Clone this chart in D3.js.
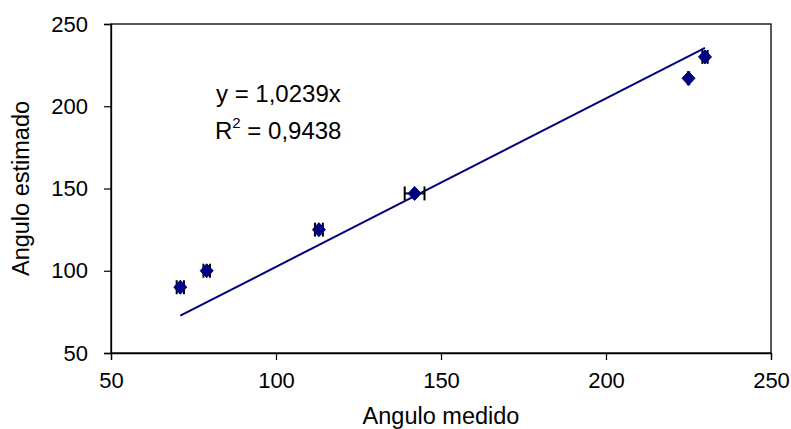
<!DOCTYPE html>
<html>
<head>
<meta charset="utf-8">
<script src="https://cdn.jsdelivr.net/npm/d3@7/dist/d3.min.js"></script>
<style>
  html, body { margin: 0; padding: 0; background: #fff; }
  svg { display: block; font-family: "Liberation Sans", Arial, sans-serif; }
</style>
</head>
<body>
<svg id="chart" width="791" height="429"></svg>
<script>
// Measured vs estimated angle, with horizontal error bars
const measured  = [71, 79, 113, 142, 225, 230];
const estimated = [90, 100, 125, 147, 217, 230];
const xError    = [1.1, 1.0, 1.2, 3.0, 0.2, 0.8];
const slope = 1.0239;
const r2Label = "0,9438";
const xTicks = [50, 100, 150, 200, 250];
const yTicks = [50, 100, 150, 200, 250];

const svg = d3.select("#chart");
const margin = { left: 111, right: 20, top: 24, bottom: 76 };
const W = 791, H = 429;
const tickFont = "22px";
const titleFont = "23.5px";
const annFont = "24px";

const x = d3.scaleLinear().domain([50, 250]).range([margin.left, W - margin.right]);
const y = d3.scaleLinear().domain([50, 250]).range([H - margin.bottom, margin.top]);

// plot frame
svg.append("rect")
  .attr("x", x(50)).attr("y", y(250))
  .attr("width", x(250) - x(50)).attr("height", y(50) - y(250))
  .attr("fill", "none").attr("stroke", "#000").attr("stroke-width", 1.3);

const xAxis = svg.append("g")
  .attr("transform", `translate(0,${y(50)})`)
  .call(d3.axisBottom(x).tickValues(xTicks).tickSize(7).tickPadding(12).tickFormat(d3.format("d")));
const yAxis = svg.append("g")
  .attr("transform", `translate(${x(50)},0)`)
  .call(d3.axisLeft(y).tickValues(yTicks).tickSize(7).tickPadding(16).tickFormat(d3.format("d")));

[xAxis, yAxis].forEach(g => {
  g.select(".domain").attr("stroke", "#000").attr("stroke-width", 1.3);
  g.selectAll(".tick line").attr("stroke", "#000").attr("stroke-width", 1.2);
  g.selectAll("text").attr("fill", "#000").style("font-size", tickFont)
    .style("font-family", "'Liberation Sans', Arial, sans-serif");
});

// axis titles
svg.append("text")
  .attr("x", (x(50) + x(250)) / 2).attr("y", 424)
  .attr("text-anchor", "middle").style("font-size", titleFont)
  .text("Angulo medido");
svg.append("text")
  .attr("transform", `translate(29,${(y(50) + y(250)) / 2}) rotate(-90)`)
  .attr("text-anchor", "middle").style("font-size", titleFont)
  .text("Angulo estimado");

// trend line through origin, drawn over the data range
const xMin = d3.min(measured), xMax = d3.max(measured);
svg.append("line")
  .attr("x1", x(xMin)).attr("y1", y(slope * xMin))
  .attr("x2", x(xMax)).attr("y2", y(slope * xMax))
  .attr("stroke", "#000080").attr("stroke-width", 2);

// error bars
const data = measured.map((m, i) => ({ m, e: estimated[i], err: xError[i] }));
const eb = svg.append("g").attr("stroke", "#000").attr("stroke-width", 2);
data.forEach(d => {
  eb.append("line")
    .attr("x1", x(d.m - d.err)).attr("x2", x(d.m + d.err))
    .attr("y1", y(d.e)).attr("y2", y(d.e));
  [d.m - d.err, d.m + d.err].forEach(v => {
    eb.append("line")
      .attr("x1", x(v)).attr("x2", x(v))
      .attr("y1", y(d.e) - 7).attr("y2", y(d.e) + 7);
  });
});

// diamond markers
svg.append("g").selectAll("path").data(data).join("path")
  .attr("transform", d => `translate(${x(d.m)},${y(d.e)})`)
  .attr("d", "M0,-7L6.5,0L0,7L-6.5,0Z")
  .attr("fill", "#000080").attr("stroke", "#000080").attr("stroke-width", 1);

// regression annotation
const ann = svg.append("g").style("font-size", annFont);
ann.append("text").attr("x", 216).attr("y", 102).text(`y = ${d3.format(".4f")(slope).replace(".", ",")}x`);
const r2 = ann.append("text").attr("x", 215).attr("y", 139);
r2.append("tspan").text("R");
r2.append("tspan").attr("dy", -11).style("font-size", "15px").text("2");
r2.append("tspan").attr("dy", 11).text(` = ${r2Label}`);
</script>
</body>
</html>
